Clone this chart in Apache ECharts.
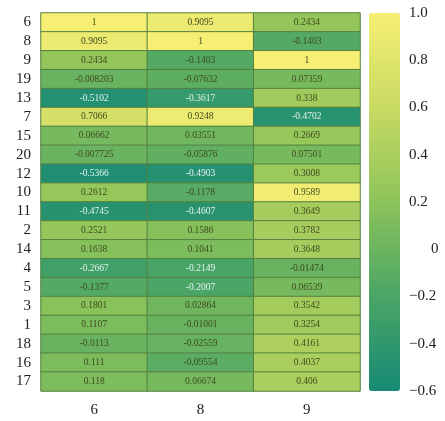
<!DOCTYPE html>
<html><head><meta charset="utf-8">
<script src="https://cdn.jsdelivr.net/npm/echarts@6/dist/echarts.min.js"></script>
<style>html,body{margin:0;padding:0;background:#fff}#c{width:445px;height:421px}</style>
</head><body><div id="c"></div>
<script>
const xCats = ['6', '8', '9'];
const yCats = ['6','8','9','19','13','7','15','20','12','10','11','2','14','4','5','3','1','18','16','17'];
const col6 = [1, 0.9095, 0.2434, -0.008203, -0.5102, 0.7066, 0.06662, -0.007725, -0.5366, 0.2612, -0.4745, 0.2521, 0.1638, -0.2667, -0.1377, 0.1801, 0.1107, -0.0113, 0.111, 0.118];
const col8 = [0.9095, 1, -0.1403, -0.07632, -0.3617, 0.9248, 0.03551, -0.05876, -0.4903, -0.1178, -0.4607, 0.1586, 0.1041, -0.2149, -0.2007, 0.02864, -0.01001, -0.02559, -0.09554, 0.06674];
const col9 = [0.2434, -0.1403, 1, 0.07359, 0.338, -0.4702, 0.2669, 0.07501, 0.3008, 0.9589, 0.3649, 0.3782, 0.3648, -0.01474, 0.06539, 0.3542, 0.3254, 0.4161, 0.4037, 0.406];
const cbTicks = [-0.6, -0.4, -0.2, 0, 0.2, 0.4, 0.6, 0.8, 1.0];

const cols = [col6, col8, col9];
const data = [];
cols.forEach((col, xi) => col.forEach((v, yi) => {
  data.push({value: [xi, yi, v], label: {color: v < -0.2 ? '#e4f3ee' : '#3d4a1e'}});
}));
const fmt = v => Math.abs(v) < 1e-9 ? '{z|0}' : (v < 0 ? '\u2212' + Math.abs(v).toFixed(1) : v.toFixed(1));
const chart = echarts.init(document.getElementById('c'));
chart.setOption({
  backgroundColor: '#fff',
  animation: false,
  grid: [
    {left: 41, top: 13, width: 319, height: 378},
    {left: 369, top: 13, width: 31, height: 378}
  ],
  xAxis: [
    {type: 'category', data: xCats, gridIndex: 0, axisLine: {show: false}, axisTick: {show: false},
     axisLabel: {fontFamily: 'Liberation Serif', fontSize: 15, color: '#222', margin: 12}},
    {type: 'value', gridIndex: 1, show: false, min: 0, max: 1}
  ],
  yAxis: [
    {type: 'category', data: yCats, inverse: true, gridIndex: 0, axisLine: {show: false}, axisTick: {show: false},
     axisLabel: {interval: 0, fontFamily: 'Liberation Serif', fontSize: 15, color: '#222', margin: 10, lineHeight: 15}},
    {type: 'value', gridIndex: 1, position: 'right', min: -0.6, max: 1.0, interval: 0.2,
     axisLine: {show: false}, axisTick: {show: false}, splitLine: {show: false},
     axisLabel: {fontFamily: 'Liberation Serif', fontSize: 15, color: '#222', margin: 9, formatter: fmt,
       customValues: cbTicks,
       rich: {z: {fontFamily: 'Liberation Serif', fontSize: 15, color: '#222', padding: [0, 0, 0, 22]}}}}
  ],
  visualMap: {
    type: 'continuous', min: -0.6, max: 1.0, seriesIndex: 0, dimension: 2,
    calculable: false, show: true, left: 369, top: 13, padding: 0,
    itemWidth: 31, itemHeight: 378, text: null, showLabel: false,
    inRange: {color: ['#178a74', '#4aa566', '#8cc35a', '#c8da62', '#f6ef74']}
  },
  series: [
    {type: 'heatmap', xAxisIndex: 0, yAxisIndex: 0, data: data,
     itemStyle: {borderColor: '#55803f', borderWidth: 1},
     label: {show: true, fontFamily: 'Liberation Serif', fontSize: 9.5,
       formatter: p => String(p.value[2])}},
    {type: 'line', xAxisIndex: 1, yAxisIndex: 1, data: [], silent: true}
  ]
});
</script></body></html>
